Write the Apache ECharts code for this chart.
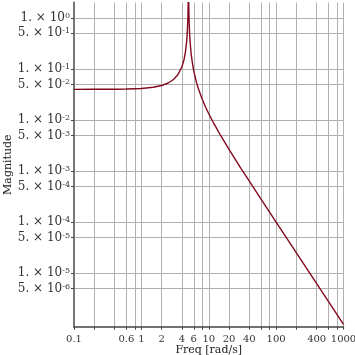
<!DOCTYPE html>
<html>
<head>
<meta charset="utf-8">
<script src="https://cdn.jsdelivr.net/npm/echarts@6/dist/echarts.min.js"></script>
<style>
  html, body { margin: 0; padding: 0; background: #fff; }
  #chart { width: 355px; height: 355px; }
</style>
</head>
<body>
<div id="chart"></div>
<script>
// 频率点 (rad/s) 和对应幅值
const freq = [0.1, 0.2, 0.4, 0.6, 1, 1.5, 2, 2.5, 3, 3.5, 4, 4.3, 4.5, 4.7, 4.8, 4.9, 4.95, 5,
  5.05, 5.1, 5.2, 5.3, 5.5, 5.8, 6, 6.5, 7, 8, 9, 10, 12, 15, 20, 30, 40, 60, 100, 200, 400, 1000];
const magnitude = [0.0400, 0.0401, 0.0403, 0.0406, 0.0417, 0.0440, 0.0476, 0.0533, 0.0625, 0.0784,
  0.111, 0.154, 0.211, 0.344, 0.510, 1.01, 2.01, 4.0,
  1.99, 0.99, 0.49, 0.324, 0.190, 0.116, 0.0909, 0.0580, 0.0417, 0.0256, 0.0179, 0.0133,
  0.0084, 0.0050, 0.00267, 0.00114, 0.000635, 0.000280, 0.0001, 0.000025, 0.00000625, 0.000001];

// x 轴:网格线位置 / 带标签的刻度
const xGridTicks = [0.1, 0.2, 0.4, 0.6, 0.8, 1, 2, 4, 6, 8, 10, 20, 40, 60, 80, 100, 200, 400, 600, 800, 1000];
const xLabelTicks = [0.1, 0.6, 1, 2, 4, 6, 10, 20, 40, 100, 400, 1000];
// y 轴:1×10^k 和 5×10^k
const yTicks = [1, 0.5, 0.1, 0.05, 0.01, 0.005, 0.001, 0.0005, 0.0001, 0.00005, 0.00001, 0.000005];

const SERIF = 'DejaVu Serif, serif';
const GRID = '#b0b0b0';

function sciLabel(v) {
  const e = Math.floor(Math.log10(v) + 1e-9);
  const m = Math.round(v / Math.pow(10, e));
  return m + '. \u00d7 10{sup|' + e + '}';
}

const chart = echarts.init(document.getElementById('chart'));
chart.setOption({
  animation: false,
  // v6 默认会把标签挤进容器,这里关掉,位置按像素定死
  grid: { left: 74, right: 11.5, top: 2.6, bottom: 28.3, containLabel: false, outerBoundsMode: 'none' },
  xAxis: {
    type: 'log', logBase: 10, min: 0.1, max: 1000,
    name: 'Freq [rad/s]', nameLocation: 'middle', nameGap: 18, nameMoveOverlap: false,
    nameTextStyle: { fontFamily: SERIF, fontSize: 11, color: '#222' },
    axisLine: { show: true, lineStyle: { color: '#444', width: 1.5 } },
    axisTick: { show: true, inside: false, length: 3, customValues: xGridTicks, lineStyle: { color: '#444' } },
    axisLabel: {
      customValues: xLabelTicks, margin: 8, fontFamily: SERIF, fontSize: 10, color: '#333',
      formatter: (v) => String(v),
    },
    splitLine: { show: true, lineStyle: { color: GRID, width: 1 } },
    minorTick: { show: false }, minorSplitLine: { show: false },
  },
  yAxis: {
    type: 'log', logBase: 10, min: 9e-7, max: 2,
    name: 'Magnitude', nameLocation: 'middle', nameGap: 60, nameMoveOverlap: false,
    nameTextStyle: { fontFamily: SERIF, fontSize: 11, color: '#222' },
    axisLine: { show: true, lineStyle: { color: '#777', width: 2 } },
    axisTick: { show: true, inside: false, length: 3, customValues: yTicks, lineStyle: { color: '#444' } },
    axisLabel: {
      customValues: yTicks, margin: 4, fontFamily: SERIF, fontSize: 12, color: '#333',
      formatter: sciLabel,
      rich: { sup: { fontSize: 8, fontFamily: SERIF, color: '#333', verticalAlign: 'top', lineHeight: 11 } },
    },
    splitLine: { show: true, lineStyle: { color: GRID, width: 1 } },
    minorTick: { show: false }, minorSplitLine: { show: false },
  },
  series: [{
    type: 'line',
    data: freq.map((f, i) => [f, magnitude[i]]),
    showSymbol: false,
    clip: true,
    lineStyle: { color: '#82091f', width: 1.4 },
  }],
});
</script>
</body>
</html>
